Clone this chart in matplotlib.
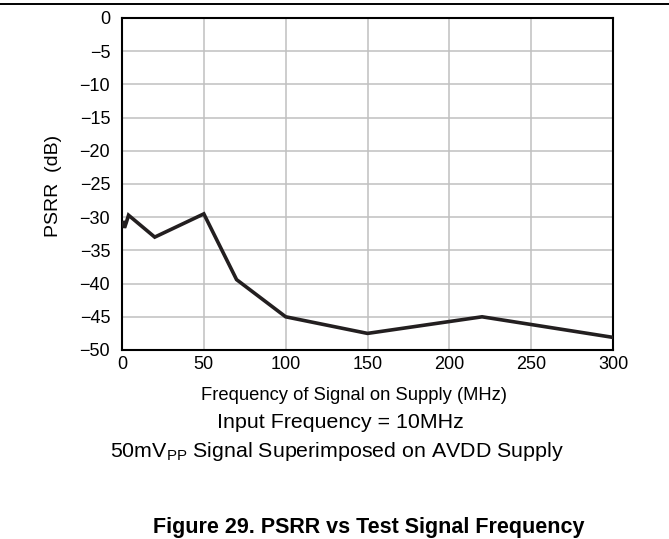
import matplotlib
matplotlib.use("Agg")
import matplotlib.pyplot as plt
from matplotlib.lines import Line2D

plt.rcParams['font.family'] = ['Liberation Sans', 'DejaVu Sans']

W, H = 669, 539

# PSRR curve
freq_mhz = [0.8, 1.5, 2.5, 4, 20, 50, 70, 100, 150, 220, 300]
psrr_db = [-30.8, -31.6, -30.9, -29.7, -33.0, -29.5, -39.4, -45.0, -47.5, -45.0, -48.1]

x_ticks = [0, 50, 100, 150, 200, 250, 300]
y_ticks = [0, -5, -10, -15, -20, -25, -30, -35, -40, -45, -50]


def fx(px):
    return px / W


def fy(py):
    return 1 - py / H


fig = plt.figure(figsize=(W / 100, H / 100), dpi=100)
ax = fig.add_axes([fx(122), fy(350), (613 - 122) / W, (350 - 18) / H])

ax.plot(freq_mhz, psrr_db, color='#231f20', lw=2.6, solid_joinstyle='miter', zorder=3)

ax.set_xlim(0, 300)
ax.set_ylim(-50, 0)
ax.set_xticks(x_ticks)
ax.set_yticks(y_ticks)
ax.set_yticklabels([str(v).replace('-', '\u2212') for v in y_ticks])
ax.grid(True, color='#c0c0c0', lw=1.1)
ax.set_axisbelow(True)
ax.tick_params(length=0, labelsize=13)
ax.tick_params(axis='x', pad=4)
ax.tick_params(axis='y', pad=8.5)
for s in ax.spines.values():
    s.set_linewidth(1.5)
    s.set_color('black')

# axis titles placed where they sit in the reference
fig.text(fx(54), fy(186), 'PSRR  (dB)', rotation=90, ha='center', va='center', fontsize=14)
fig.text(fx(354), fy(400), 'Frequency of Signal on Supply (MHz)', ha='center', va='baseline',
         fontsize=13.2)

fig.text(fx(340), fy(428), 'Input Frequency = 10MHz', ha='center', va='baseline', fontsize=15.4)
fig.text(fx(337), fy(457), r'50mV$_{\mathregular{PP}}$ Signal Superimposed on AVDD Supply',
         ha='center', va='baseline', fontsize=15.4)
fig.text(fx(369), fy(533), 'Figure 29. PSRR vs Test Signal Frequency', ha='center',
         va='baseline', fontsize=15.5, fontweight='bold')

fig.add_artist(Line2D([0, 1], [fy(4), fy(4)], transform=fig.transFigure, color='black', lw=1.4))

fig.savefig('out.png', dpi=100)
